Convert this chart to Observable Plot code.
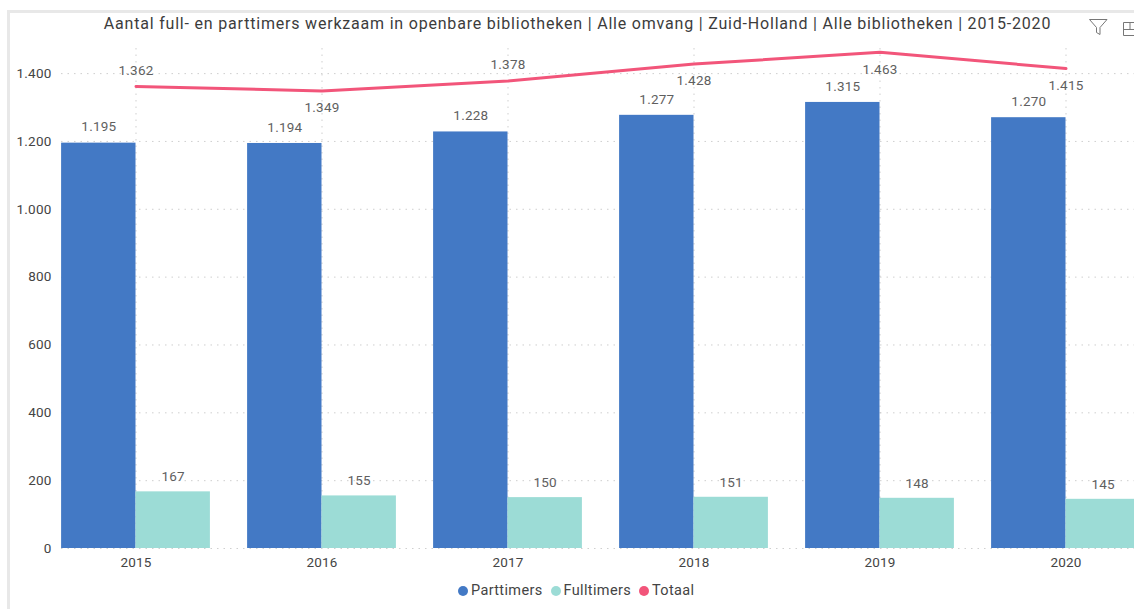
<!DOCTYPE html>
<html><head><meta charset="utf-8">
<script src="https://cdn.jsdelivr.net/npm/d3@7"></script>
<script src="https://cdn.jsdelivr.net/npm/@observablehq/plot@0.6"></script>
<style>
html,body{margin:0;padding:0;background:#fff;overflow:hidden;width:1134px;height:609px;font-family:Roboto,sans-serif}
#frame{position:absolute;left:7px;top:10px;width:1140px;height:620px;border:3px solid #e8e8e8;box-sizing:border-box;pointer-events:none}
#title{position:absolute;left:0;top:14px;width:1155px;text-align:center;font-size:16px;letter-spacing:.8px;color:#3c3c3c;line-height:20px;white-space:nowrap}
#chart{position:absolute;left:0;top:40px}
#legend{position:absolute;left:458px;top:582px;display:flex;align-items:center;font-size:14.5px;letter-spacing:.35px;color:#444;line-height:18px;white-space:nowrap}
#legend span.s{width:10px;height:10px;border-radius:50%;margin-right:3px;display:inline-block}
#legend span.t{margin-right:8px}
#icons{position:absolute;left:1088px;top:16px}
</style></head><body>
<div id="title">Aantal full- en parttimers werkzaam in openbare bibliotheken | Alle omvang | Zuid-Holland | Alle bibliotheken | 2015-2020</div>
<svg id="icons" width="46" height="22"><path d="M1.5 3.5H19L12 11.5V18.5L8.5 16.5V11.5Z" fill="none" stroke="#777" stroke-width="1"/><path d="M35.5 19.5V6.5H46M35.5 13.5H46M35.5 19.5H46M42 6.5V13.5" fill="none" stroke="#777" stroke-width="1"/></svg>
<div id="chart"></div>
<div id="legend"></div>
<div id="frame"></div>
<script>
const years = [2015, 2016, 2017, 2018, 2019, 2020];
const parttimers = [1195, 1194, 1228, 1277, 1315, 1270];
const fulltimers = [167, 155, 150, 151, 148, 145];
const totaal = [1362, 1349, 1378, 1428, 1463, 1415];
const totaalLabelAbove = [true, false, true, false, false, false];
const yTicks = [0, 200, 400, 600, 800, 1000, 1200, 1400];
const seriesNames = ["Parttimers", "Fulltimers", "Totaal"];
const seriesColors = ["#4379c5", "#9cdcd6", "#f2557a"];

const nl = d3.formatLocale({decimal: ",", thousands: ".", grouping: [3], currency: ["€", ""]}).format(",d");
const half = 0.4;
const rows = years.map((year, i) => ({year, part: parttimers[i], full: fulltimers[i], tot: totaal[i], above: totaalLabelAbove[i]}));
const textColor = "#5f5f5f";

const plot = Plot.plot({
  width: 1134, height: 535,
  marginLeft: 61, marginRight: 0, marginTop: 8, marginBottom: 27,
  style: {fontFamily: "Roboto, sans-serif", fontSize: "13.5px", background: "transparent", letterSpacing: "0.2px"},
  x: {type: "linear", domain: [2014.5, 2020.5], range: [42.5, 1158.5]},
  y: {domain: [0, 1474]},
  marks: [
    Plot.gridY(yTicks, {stroke: "#bbb", strokeOpacity: 0.7, strokeDasharray: "1.5 5"}),
    Plot.gridX(years, {stroke: "#bbb", strokeOpacity: 0.7, strokeDasharray: "1.5 5"}),
    Plot.rectY(rows, {x1: d => d.year - half, x2: d => d.year, y1: 0, y2: "part", fill: seriesColors[0], inset: 0}),
    Plot.rectY(rows, {x1: d => d.year, x2: d => d.year + half, y1: 0, y2: "full", fill: seriesColors[1], inset: 0}),
    Plot.line(rows, {x: "year", y: "tot", stroke: seriesColors[2], strokeWidth: 3, curve: "linear"}),
    Plot.text(rows, {x: d => d.year - half / 2, y: "part", text: d => nl(d.part), dy: -16, fill: textColor}),
    Plot.text(rows, {x: d => d.year + half / 2, y: "full", text: d => nl(d.full), dy: -15, fill: textColor}),
    Plot.text(rows.filter(d => d.above), {x: "year", y: "tot", text: d => nl(d.tot), dy: -16, fill: textColor}),
    Plot.text(rows.filter(d => !d.above), {x: "year", y: "tot", text: d => nl(d.tot), dy: 17, fill: textColor}),
    Plot.axisY({ticks: yTicks, tickSize: 0, tickPadding: 10, tickFormat: nl, label: null, color: "#444"}),
    Plot.axisX({ticks: years, tickSize: 0, tickPadding: 9, tickFormat: d => String(d), label: null, color: "#444"})
  ]
});
document.getElementById("chart").appendChild(plot);

const legend = document.getElementById("legend");
seriesNames.forEach((name, i) => {
  const s = document.createElement("span"); s.className = "s"; s.style.background = seriesColors[i];
  const t = document.createElement("span"); t.className = "t"; t.textContent = name;
  legend.append(s, t);
});
</script>
</body></html>
